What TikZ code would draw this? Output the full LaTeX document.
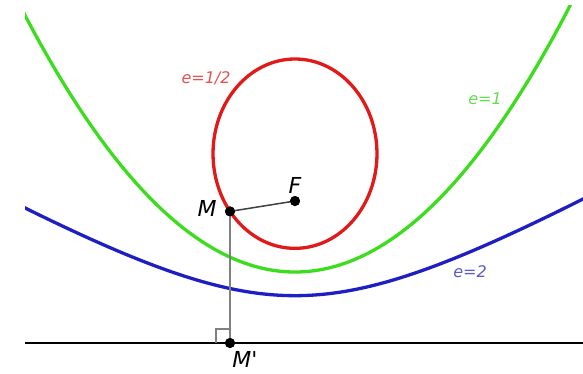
\documentclass[tikz,border=0pt]{standalone}
\usepackage{fontspec}
\setsansfont{DejaVu Sans}
\definecolor{cred}{RGB}{225,25,25}
\definecolor{cgreen}{RGB}{60,220,30}
\definecolor{cblue}{RGB}{30,30,195}
\definecolor{lred}{RGB}{230,80,80}
\definecolor{lgreen}{RGB}{100,220,80}
\definecolor{lblue}{RGB}{90,90,200}
\tikzset{
  curve/.style={line width=3.3pt},
  dot/.style={circle,fill=black,inner sep=0pt,minimum size=10pt},
  lab/.style={font=\sffamily\itshape\fontsize{16}{16}\selectfont,inner sep=0pt},
  big/.style={font=\sffamily\itshape\fontsize{22}{22}\selectfont,inner sep=0pt},
}
\begin{document}
\begin{tikzpicture}[x=1pt,y=-1pt]
\useasboundingbox (0,0) rectangle (583,373);
\begin{scope}
\clip (25,5) rectangle (583,345);
\draw[curve,cgreen] plot[domain=-1.95:2.05,samples=200] ({295+142*\x},{201-142*(\x*\x-1)/2});
\draw[curve,cblue] plot[domain=-1.95:2.05,samples=200] ({295+142*\x},{201-142*(-8+sqrt(16+12*\x*\x))/6});
\end{scope}
\draw[curve,cred] (295,153.67) ellipse [x radius=81.98, y radius=94.67];
\coordinate (L) at (25,343);
\coordinate (R) at (583,343);
\draw[line width=2pt] (L) -- (R);
\node[dot] (F) at (295,201) {};
\node[dot] (M) at (230,211.4) {};
\node[dot] (Mp) at (230,343) {};
\draw[line width=1.5pt,black!75] (M.center) -- (F.center);
\draw[line width=1.5pt,black!50] (M.center) -- (Mp.center);
\draw[line width=1.1pt,black!50] ([xshift=-14pt]Mp.center) |- ([yshift=14pt]Mp.center);
\node[dot] at (F) {};
\node[dot] at (M) {};
\node[dot] at (Mp) {};
\node[big] (tF) at (295,185) {F};
\node[big] (tM) at (207,208) {M};
\node[big] (tMp) at (245,359) {M\textquotesingle};
\node[lab,text=lred] (t1) at (206,78) {e=1/2};
\node[lab,text=lgreen] (t2) at (485,99) {e=1};
\node[lab,text=lblue] (t3) at (470,272) {e=2};
\end{tikzpicture}
\end{document}
